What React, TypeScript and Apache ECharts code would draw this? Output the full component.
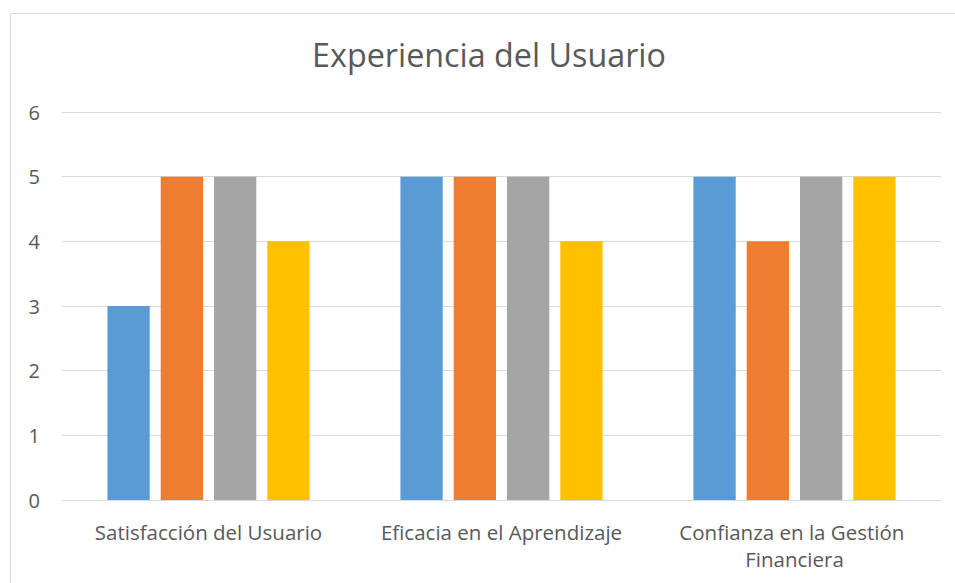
import React, { useEffect, useRef } from "react";
import * as echarts from "echarts";

const categories = ["Satisfacción del Usuario", "Eficacia en el Aprendizaje", "Confianza en la Gestión Financiera"];
const seriesNames = ["Serie 1", "Serie 2", "Serie 3", "Serie 4"];
const serie1 = [3, 5, 5];
const serie2 = [5, 5, 4];
const serie3 = [5, 5, 5];
const serie4 = [4, 4, 5];
const colors = ["#5B9BD5", "#ED7D31", "#A5A5A5", "#FFC000"];
const titleText = "Experiencia del Usuario";

export default function App() {
  const ref = useRef<HTMLDivElement>(null);
  useEffect(() => {
    if (!ref.current) return;
    const chart = echarts.init(ref.current, null, { renderer: "svg" });
    const values = [serie1, serie2, serie3, serie4];
    const font = "'Open Sans', sans-serif";
    chart.setOption({
      animation: false,
      backgroundColor: "#ffffff",
      title: {
        text: titleText,
        left: 484,
        top: 33,
        textAlign: "center",
        textStyle: { fontFamily: font, fontSize: 32.3, fontWeight: "normal", color: "#595959" },
      },
      graphic: [
        {
          type: "rect",
          shape: { x: 10.5, y: 13.5, width: 960, height: 600 },
          style: { fill: "none", stroke: "#D9D9D9", lineWidth: 1 },
          silent: true,
        },
      ],
      grid: { left: 62, right: 14, top: 112, bottom: 83, containLabel: false },
      xAxis: {
        type: "category",
        data: categories,
        axisLine: { lineStyle: { color: "#D9D9D9", width: 1 } },
        axisTick: { show: false },
        axisLabel: {
          interval: 0,
          margin: 18,
          width: 262,
          overflow: "break",
          lineHeight: 27,
          fontFamily: font,
          fontSize: 20.5,
          color: "#595959",
        },
      },
      yAxis: {
        type: "value",
        min: 0,
        max: 6,
        interval: 1,
        axisLine: { show: false },
        axisTick: { show: false },
        splitLine: { lineStyle: { color: "#D9D9D9", width: 1 } },
        axisLabel: { margin: 22, fontFamily: font, fontSize: 20, color: "#595959" },
      },
      series: seriesNames.map((name, i) => ({
        name,
        type: "bar",
        data: values[i],
        barGap: "26%",
        barCategoryGap: "31%",
        itemStyle: { color: colors[i] },
      })),
    });
    return () => chart.dispose();
  }, []);
  return (
    <div
      ref={ref}
      style={{ position: "absolute", left: 0, top: 0, width: 955, height: 583 }}
    />
  );
}
